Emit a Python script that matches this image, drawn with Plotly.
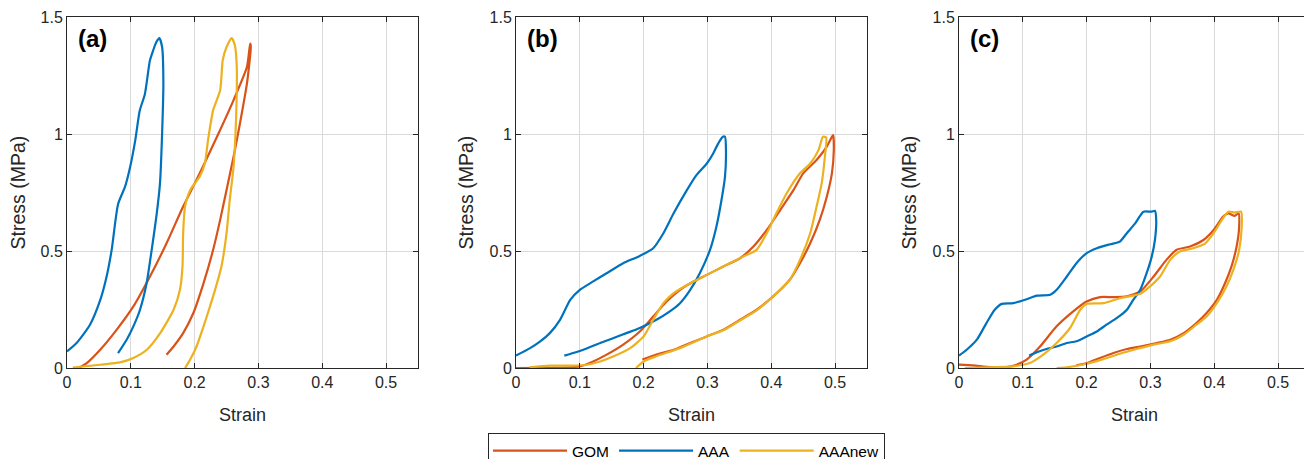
import plotly.graph_objects as go

# ---------------- data ----------------
panels = ["(a)", "(b)", "(c)"]
series_names = ["GOM", "AAA", "AAAnew"]
x_ticks = [0, 0.1, 0.2, 0.3, 0.4, 0.5]
x_tick_labels = ["0", "0.1", "0.2", "0.3", "0.4", "0.5"]
y_ticks = [0, 0.5, 1, 1.5]
y_tick_labels = ["0", "0.5", "1", "1.5"]

# Panel (a)
a_gom_x = [0.018, 0.031, 0.052, 0.078, 0.104, 0.130, 0.156, 0.182, 0.208, 0.235, 0.261, 0.282, 0.287,
           0.288, 0.282, 0.271, 0.261, 0.250, 0.240, 0.229, 0.214, 0.198, 0.182, 0.167, 0.156]
a_gom_y = [0.0, 0.021, 0.078, 0.164, 0.263, 0.391, 0.533, 0.690, 0.832, 0.988, 1.145, 1.287, 1.386,
           1.372, 1.216, 1.045, 0.903, 0.761, 0.633, 0.505, 0.363, 0.235, 0.149, 0.092, 0.057]
a_aaa_x = [0.0, 0.015, 0.036, 0.052, 0.062, 0.070, 0.080, 0.091, 0.099, 0.107, 0.114, 0.122, 0.130, 0.135,
           0.140, 0.1447, 0.149, 0.151, 0.149, 0.1457, 0.140, 0.1327, 0.1248, 0.1144, 0.104, 0.0935, 0.080]
a_aaa_y = [0.071, 0.107, 0.185, 0.290, 0.390, 0.505, 0.700, 0.775, 0.860, 0.974, 1.100, 1.170, 1.315, 1.357,
           1.393, 1.410, 1.372, 1.216, 1.000, 0.789, 0.647, 0.505, 0.363, 0.249, 0.178, 0.121, 0.064]
a_new_x = [0.009, 0.052, 0.083, 0.104, 0.125, 0.146, 0.167, 0.177, 0.181, 0.182, 0.185, 0.193, 0.208, 0.216,
           0.221, 0.229, 0.240, 0.244, 0.250, 0.258, 0.263, 0.266, 0.265, 0.261, 0.255, 0.250, 0.242, 0.232,
           0.224, 0.214, 0.203, 0.193, 0.185]
a_new_y = [0.002, 0.014, 0.024, 0.043, 0.078, 0.149, 0.249, 0.334, 0.434, 0.576, 0.690, 0.760, 0.818, 0.874,
           0.974, 1.102, 1.187, 1.315, 1.372, 1.410, 1.379, 1.287, 1.073, 0.860, 0.718, 0.576, 0.434, 0.334,
           0.263, 0.178, 0.092, 0.036, 0.0]

# Panel (b)
b_gom_x = [0.0, 0.085, 0.100, 0.121, 0.142, 0.168, 0.194, 0.215, 0.236, 0.257, 0.278, 0.299, 0.325, 0.351,
           0.372, 0.393, 0.414, 0.435, 0.450, 0.471, 0.487, 0.495, 0.497, 0.498, 0.495, 0.487, 0.476, 0.461,
           0.445, 0.429, 0.403, 0.377, 0.351, 0.325, 0.299, 0.273, 0.247, 0.220, 0.198]
b_gom_y = [0.0, 0.003, 0.007, 0.028, 0.057, 0.100, 0.156, 0.220, 0.284, 0.334, 0.370, 0.398, 0.434, 0.469,
           0.519, 0.590, 0.675, 0.761, 0.832, 0.889, 0.946, 0.988, 0.995, 0.931, 0.832, 0.732, 0.633, 0.533,
           0.448, 0.377, 0.306, 0.249, 0.206, 0.164, 0.135, 0.107, 0.078, 0.057, 0.036]
b_aaa_x = [0.0, 0.022, 0.038, 0.053, 0.069, 0.085, 0.100, 0.121, 0.142, 0.168, 0.194, 0.215, 0.231, 0.247,
           0.268, 0.283, 0.299, 0.309, 0.317, 0.324, 0.3275, 0.329, 0.3275, 0.322, 0.314, 0.304, 0.288, 0.273,
           0.257, 0.241, 0.220, 0.194, 0.173, 0.153, 0.132, 0.1055, 0.0898, 0.0757]
b_aaa_y = [0.053, 0.085, 0.114, 0.149, 0.206, 0.291, 0.334, 0.370, 0.405, 0.448, 0.479, 0.512, 0.576, 0.661,
           0.761, 0.825, 0.874, 0.917, 0.960, 0.988, 0.988, 0.931, 0.818, 0.718, 0.604, 0.505, 0.405, 0.334,
           0.277, 0.242, 0.206, 0.171, 0.149, 0.128, 0.107, 0.078, 0.064, 0.053]
b_new_x = [0.021, 0.053, 0.090, 0.111, 0.132, 0.153, 0.179, 0.200, 0.215, 0.231, 0.247, 0.268, 0.299, 0.330,
           0.356, 0.377, 0.393, 0.408, 0.424, 0.445, 0.461, 0.474, 0.481, 0.486, 0.484, 0.479, 0.471, 0.461,
           0.445, 0.429, 0.403, 0.377, 0.351, 0.325, 0.299, 0.257, 0.220, 0.200, 0.188]
b_new_y = [0.003, 0.010, 0.010, 0.014, 0.028, 0.050, 0.085, 0.135, 0.206, 0.277, 0.320, 0.355, 0.398, 0.441,
           0.476, 0.505, 0.576, 0.661, 0.746, 0.832, 0.874, 0.931, 0.988, 0.985, 0.903, 0.789, 0.690, 0.576,
           0.462, 0.377, 0.306, 0.246, 0.203, 0.161, 0.135, 0.085, 0.050, 0.028, 0.0]

# Panel (c)
c_gom_x = [0.0, 0.022, 0.049, 0.075, 0.090, 0.106, 0.127, 0.153, 0.179, 0.200, 0.221, 0.242, 0.263, 0.284,
           0.305, 0.325, 0.341, 0.362, 0.383, 0.399, 0.414, 0.422, 0.432, 0.438, 0.439, 0.435, 0.427, 0.417,
           0.404, 0.388, 0.372, 0.352, 0.331, 0.310, 0.284, 0.263, 0.242, 0.221, 0.200, 0.184]
c_gom_y = [0.014, 0.011, 0.004, 0.004, 0.014, 0.036, 0.092, 0.178, 0.242, 0.284, 0.303, 0.303, 0.306, 0.327,
           0.391, 0.462, 0.505, 0.519, 0.547, 0.590, 0.647, 0.661, 0.650, 0.661, 0.604, 0.519, 0.434, 0.363,
           0.291, 0.235, 0.192, 0.149, 0.121, 0.107, 0.092, 0.081, 0.064, 0.043, 0.021, 0.011]
c_aaa_x = [0.0, 0.012, 0.028, 0.043, 0.056, 0.067, 0.085, 0.106, 0.122, 0.143, 0.153, 0.169, 0.184, 0.200,
           0.216, 0.237, 0.252, 0.263, 0.276, 0.289, 0.302, 0.307, 0.309, 0.307, 0.302, 0.294, 0.284, 0.273,
           0.263, 0.247, 0.231, 0.216, 0.200, 0.184, 0.169, 0.153, 0.137, 0.122, 0.110]
c_aaa_y = [0.053, 0.078, 0.121, 0.192, 0.249, 0.274, 0.277, 0.294, 0.309, 0.313, 0.334, 0.391, 0.448, 0.491,
           0.512, 0.529, 0.540, 0.576, 0.618, 0.668, 0.668, 0.672, 0.633, 0.547, 0.476, 0.405, 0.334, 0.291,
           0.249, 0.213, 0.185, 0.156, 0.135, 0.114, 0.107, 0.092, 0.081, 0.067, 0.053]
c_new_x = [0.009, 0.049, 0.085, 0.111, 0.132, 0.153, 0.174, 0.190, 0.200, 0.226, 0.252, 0.284, 0.299, 0.315,
           0.331, 0.346, 0.367, 0.386, 0.399, 0.412, 0.422, 0.432, 0.442, 0.443, 0.439, 0.430, 0.419, 0.404,
           0.388, 0.372, 0.352, 0.331, 0.305, 0.278, 0.252, 0.226, 0.200, 0.169, 0.153]
c_new_y = [0.0, 0.003, 0.007, 0.021, 0.057, 0.107, 0.171, 0.249, 0.274, 0.277, 0.298, 0.317, 0.348, 0.391,
           0.462, 0.498, 0.512, 0.533, 0.576, 0.633, 0.668, 0.664, 0.668, 0.604, 0.505, 0.420, 0.348, 0.277,
           0.220, 0.185, 0.142, 0.114, 0.100, 0.081, 0.061, 0.038, 0.018, 0.003, 0.0]

colors = {"GOM": "#D95319", "AAA": "#0072BD", "AAAnew": "#EDB120"}

panel_data = [
    {"GOM": (a_gom_x, a_gom_y), "AAA": (a_aaa_x, a_aaa_y), "AAAnew": (a_new_x, a_new_y)},
    {"GOM": (b_gom_x, b_gom_y), "AAA": (b_aaa_x, b_aaa_y), "AAAnew": (b_new_x, b_new_y)},
    {"GOM": (c_gom_x, c_gom_y), "AAA": (c_aaa_x, c_aaa_y), "AAAnew": (c_new_x, c_new_y)},
]

# ---------------- figure ----------------
# The page body has an 8px margin, so the figure is 8px smaller and
# page-pixel positions are converted to paper fractions with that offset.
OFF = 8
W, H = 1312 - OFF, 459 - OFF
FONT = "Liberation Sans, Arial, sans-serif"


def px(p):
    return (p - OFF) / W


def py(p):
    return 1 - (p - OFF) / H


x_domains = [(px(67), px(418)), (px(516), px(867)), (px(959), px(1310))]
y_domain = (py(368), py(17))

fig = go.Figure()
for i, pdata in enumerate(panel_data):
    suffix = "" if i == 0 else str(i + 1)
    for name in series_names:
        xs, ys = pdata[name]
        fig.add_trace(go.Scatter(
            x=xs, y=ys, mode="lines", name=name,
            line=dict(color=colors[name], width=2.2, shape="spline", smoothing=0.6),
            xaxis="x" + suffix, yaxis="y" + suffix,
            showlegend=(i == 0), legendgroup=name,
        ))

axis_common = dict(
    showline=True, linecolor="#262626", linewidth=1, mirror="ticks",
    ticks="inside", ticklen=5, tickwidth=1, tickcolor="#262626",
    showgrid=True, gridcolor="#dadada", gridwidth=1,
    zeroline=False, tickfont=dict(family=FONT, size=16, color="#262626"),
)

layout = dict(
    width=W, height=H, margin=dict(l=0, r=0, t=0, b=0, autoexpand=False),
    paper_bgcolor="white", plot_bgcolor="white",
    font=dict(family=FONT, color="#262626"),
    legend=dict(
        orientation="h", x=px(488), y=py(433), xanchor="left", yanchor="top",
        bordercolor="#262626", borderwidth=1, bgcolor="white",
        font=dict(family=FONT, size=15.5, color="#000000"),
        itemwidth=74,
    ),
)
annotations = []
y_title_x = [17, 465, 908]
for i in range(3):
    suffix = "" if i == 0 else str(i + 1)
    layout["xaxis" + suffix] = dict(
        axis_common, domain=x_domains[i], range=[0, 0.55],
        tickvals=x_ticks, ticktext=x_tick_labels,
        anchor="y" + suffix,
    )
    layout["yaxis" + suffix] = dict(
        axis_common, domain=y_domain, range=[0, 1.5],
        tickvals=y_ticks, ticktext=y_tick_labels,
        anchor="x" + suffix,
    )
    # panel label
    annotations.append(dict(
        text="<b>" + panels[i] + "</b>", xref="paper", yref="paper",
        x=x_domains[i][0] + 9 / W, y=py(38), xanchor="left", yanchor="middle",
        showarrow=False, font=dict(family=FONT, size=24, color="#000000"),
    ))
    # axis titles
    annotations.append(dict(
        text="Strain", xref="paper", yref="paper",
        x=(x_domains[i][0] + x_domains[i][1]) / 2, y=py(415),
        xanchor="center", yanchor="middle", showarrow=False,
        font=dict(family=FONT, size=18, color="#262626"),
    ))
    annotations.append(dict(
        text="Stress (MPa)", xref="paper", yref="paper",
        x=px(y_title_x[i]), y=(y_domain[0] + y_domain[1]) / 2, textangle=-90,
        xanchor="center", yanchor="middle", showarrow=False,
        font=dict(family=FONT, size=19.5, color="#262626"),
    ))
layout["annotations"] = annotations
fig.update_layout(**layout)
fig.write_html("out.html")
